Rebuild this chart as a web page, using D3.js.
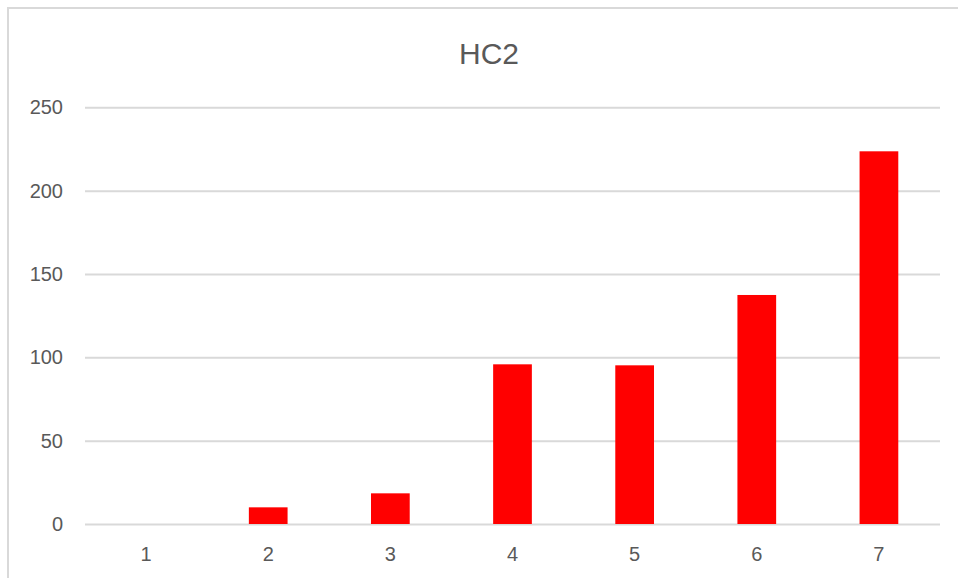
<!DOCTYPE html>
<html>
<head>
<meta charset="utf-8">
<script src="https://cdn.jsdelivr.net/npm/d3@7"></script>
<style>
  html, body { margin: 0; padding: 0; background: #fff; }
  svg { display: block; }
</style>
</head>
<body>
<script>
const title = "HC2";
const categories = ["1", "2", "3", "4", "5", "6", "7"];
const values = [0, 10, 18.4, 95.8, 95.2, 137.4, 223.6];
const yTicks = [0, 50, 100, 150, 200, 250];

const W = 958, H = 578;
const svg = d3.select("body").append("svg").attr("width", W).attr("height", H);

// chart border
svg.append("rect")
  .attr("x", 8).attr("y", 8).attr("width", W).attr("height", H)
  .attr("fill", "#fff").attr("stroke", "#d9d9d9").attr("stroke-width", 2);

const plot = { left: 85, right: 940, top: 107.3, bottom: 524 };

const x = d3.scaleBand().domain(categories)
  .range([plot.left, plot.right])
  .paddingInner(0.683).paddingOuter(0.3415);
const y = d3.scaleLinear().domain([0, 250]).range([plot.bottom, plot.top]);

const font = "'Liberation Sans', Arial, sans-serif";
const textColor = "#595959";

// gridlines
const yAxis = d3.axisLeft(y).tickValues(yTicks)
  .tickSize(-(plot.right - plot.left)).tickPadding(22).tickFormat(d3.format("d"));
const gy = svg.append("g").attr("transform", `translate(${plot.left},0)`).call(yAxis);
gy.select(".domain").remove();
gy.selectAll(".tick line").attr("stroke", "#d9d9d9").attr("stroke-width", 2);
gy.selectAll(".tick text").attr("fill", textColor)
  .style("font-family", font).style("font-size", "20px");

// bars
svg.append("g").selectAll("rect").data(values).join("rect")
  .attr("x", (d, i) => x(categories[i]))
  .attr("width", x.bandwidth())
  .attr("y", d => y(d))
  .attr("height", d => y(0) - y(d))
  .attr("fill", "#ff0000");

// x axis labels
const xAxis = d3.axisBottom(x).tickSize(0).tickPadding(23);
const gx = svg.append("g").attr("transform", `translate(0,${plot.bottom})`).call(xAxis);
gx.select(".domain").remove();
gx.selectAll(".tick text").attr("fill", textColor)
  .style("font-family", font).style("font-size", "20px");

// title
svg.append("text")
  .attr("x", 489).attr("y", 64)
  .attr("text-anchor", "middle")
  .attr("fill", textColor)
  .style("font-family", font).style("font-size", "30px")
  .text(title);
</script>
</body>
</html>
